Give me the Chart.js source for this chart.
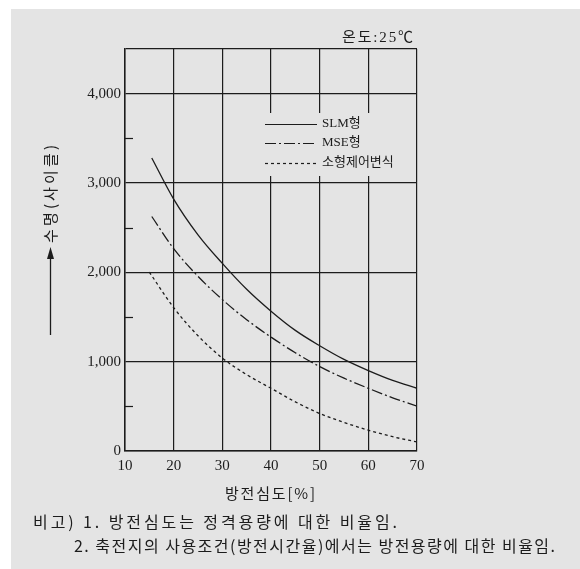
<!DOCTYPE html>
<html>
<head>
<meta charset="utf-8">
<script src="https://cdn.jsdelivr.net/npm/chart.js@4/dist/chart.umd.min.js"></script>
<style>
  html, body { margin: 0; padding: 0; background: #ffffff; }
  #wrap { position: absolute; left: 0; top: 0; width: 580px; height: 569px; }
  canvas { display: block; }
</style>
</head>
<body>
<div id="wrap"><canvas id="c" width="580" height="569"></canvas></div>
<script>
// Depth of discharge [%] sample points for each curve
const depthSLM   = [15.5, 20, 25, 30, 35, 40, 45, 50, 55, 60, 65, 70];
const depthMSE   = [15.5, 20, 25, 30, 35, 40, 45, 50, 55, 60, 65, 70];
const depthSmall = [15, 20, 25, 30, 35, 40, 45, 50, 55, 60, 65, 70];

// Cycle life values
const lifeSLM   = [3280, 2820, 2420, 2100, 1810, 1565, 1350, 1178, 1025, 900, 790, 702];
const lifeMSE   = [2625, 2265, 1955, 1695, 1470, 1275, 1100, 945, 815, 702, 595, 503];
const lifeSmall = [2003, 1605, 1290, 1040, 855, 702, 550, 420, 320, 233, 160, 101];

const seriesNames = ['SLM형', 'MSE형', '소형제어변식'];
const xTicks = [10, 20, 30, 40, 50, 60, 70];
const yLabelTicks = [0, 1000, 2000, 3000, 4000];

const titleX = '방전심도[%]';
const titleY = '수명(사이클)';
const tempNote = '온도:25℃';
const note1 = '비고) 1. 방전심도는 정격용량에 대한 비율임.';
const note2 = '2. 축전지의 사용조건(방전시간율)에서는 방전용량에 대한 비율임.';

const INK = '#1c1c1c';
const BG = '#e4e4e4';
const SERIF = "'Liberation Serif', 'Noto Sans CJK KR', serif";
const KR = "'Noto Sans CJK KR', 'Liberation Serif', sans-serif";

const toPoints = (xs, ys) => xs.map((x, i) => ({ x: x, y: ys[i] }));

const dashes = [[], [11, 3, 2, 3], [3, 3]];

// Draw text spread evenly across a given width, starting at x (left edge)
function spacedText(ctx, text, x, y, width) {
  const chars = Array.from(text);
  const widths = chars.map(ch => ctx.measureText(ch).width);
  const total = widths.reduce((a, b) => a + b, 0);
  const gap = chars.length > 1 ? (width - total) / (chars.length - 1) : 0;
  const prevAlign = ctx.textAlign;
  ctx.textAlign = 'left';
  let cx = x;
  chars.forEach((ch, i) => {
    ctx.fillText(ch, cx, y);
    cx += widths[i] + gap;
  });
  ctx.textAlign = prevAlign;
}

// Page background: white strip on top/left, grey sheet elsewhere
const backgroundPlugin = {
  id: 'sheet',
  beforeDraw(chart) {
    const ctx = chart.ctx;
    ctx.save();
    ctx.fillStyle = '#ffffff';
    ctx.fillRect(0, 0, chart.width, chart.height);
    ctx.fillStyle = BG;
    ctx.fillRect(11, 9, chart.width - 11, chart.height - 9);
    ctx.restore();
  }
};

// Short inner tick marks at the half-thousand steps
const minorTickPlugin = {
  id: 'minorTicks',
  afterDatasetsDraw(chart) {
    const ctx = chart.ctx;
    const y = chart.scales.y;
    const left = chart.chartArea.left;
    ctx.save();
    ctx.strokeStyle = INK;
    ctx.lineWidth = 1.2;
    [500, 1500, 2500, 3500].forEach(v => {
      const py = Math.round(y.getPixelForValue(v)) + 0.5;
      ctx.beginPath();
      ctx.moveTo(left, py);
      ctx.lineTo(left + 8, py);
      ctx.stroke();
    });
    ctx.restore();
  }
};

// Legend box drawn inside the plot, plus the free text around the chart
const annotatePlugin = {
  id: 'annotate',
  afterDraw(chart) {
    const ctx = chart.ctx;
    const ds = chart.data.datasets;
    ctx.save();

    // legend panel
    ctx.fillStyle = BG;
    ctx.fillRect(262, 113, 150, 63);
    const rows = [124, 143, 163];
    ds.forEach((d, i) => {
      ctx.strokeStyle = INK;
      ctx.lineWidth = 1.2;
      ctx.setLineDash(d.borderDash || []);
      ctx.beginPath();
      ctx.moveTo(265, rows[i] + 0.5);
      ctx.lineTo(317, rows[i] + 0.5);
      ctx.stroke();
      ctx.setLineDash([]);
      ctx.fillStyle = INK;
      ctx.font = '13px ' + SERIF;
      ctx.textBaseline = 'middle';
      ctx.textAlign = 'left';
      ctx.fillText(d.label, 322, rows[i]);
    });

    // temperature note
    ctx.fillStyle = INK;
    ctx.textBaseline = 'middle';
    ctx.font = '15px ' + SERIF;
    spacedText(ctx, tempNote, 342, 38, 71);

    // axis titles
    ctx.font = '15px ' + KR;
    spacedText(ctx, titleX, 225, 493, 90);

    ctx.save();
    ctx.translate(50, 194);
    ctx.rotate(-Math.PI / 2);
    spacedText(ctx, titleY, -49, 0, 98);
    ctx.restore();

    // arrow pointing up beside the y title
    ctx.strokeStyle = INK;
    ctx.lineWidth = 1.3;
    ctx.beginPath();
    ctx.moveTo(50.5, 335);
    ctx.lineTo(50.5, 256);
    ctx.stroke();
    ctx.beginPath();
    ctx.moveTo(50.5, 247);
    ctx.lineTo(47, 259);
    ctx.lineTo(54, 259);
    ctx.closePath();
    ctx.fill();

    // remarks under the chart
    ctx.font = '16px ' + KR;
    spacedText(ctx, note1, 33, 522, 364);
    spacedText(ctx, note2, 74, 546, 481);

    ctx.restore();
  }
};

const chart = new Chart(document.getElementById('c'), {
  type: 'line',
  data: {
    datasets: [
      { label: seriesNames[0], data: toPoints(depthSLM, lifeSLM), borderDash: dashes[0] },
      { label: seriesNames[1], data: toPoints(depthMSE, lifeMSE), borderDash: dashes[1] },
      { label: seriesNames[2], data: toPoints(depthSmall, lifeSmall), borderDash: dashes[2] }
    ].map(d => Object.assign(d, {
      borderColor: INK,
      borderWidth: 1.3,
      pointRadius: 0,
      fill: false,
      tension: 0.4,
      cubicInterpolationMode: 'monotone'
    }))
  },
  options: {
    responsive: false,
    animation: false,
    devicePixelRatio: 1,
    layout: { padding: { left: 0, top: 49, right: 163, bottom: 0 } },
    plugins: {
      legend: { display: false },
      tooltip: { enabled: false }
    },
    scales: {
      x: {
        type: 'linear',
        min: 10,
        max: 70,
        afterBuildTicks(scale) { scale.ticks = xTicks.map(v => ({ value: v })); },
        afterFit(scale) { scale.height = 118; },
        border: { display: true, color: INK, width: 1.5 },
        grid: { color: INK, lineWidth: 1.2, drawTicks: false },
        ticks: {
          color: INK,
          padding: 6,
          font: { family: SERIF, size: 15 }
        }
      },
      y: {
        min: 0,
        max: 4500,
        afterBuildTicks(scale) {
          scale.ticks = yLabelTicks.concat([4500]).map(v => ({ value: v }));
        },
        afterFit(scale) { scale.width = 125; },
        border: { display: true, color: INK, width: 1.5 },
        grid: { color: INK, lineWidth: 1.2, drawTicks: false },
        ticks: {
          color: INK,
          padding: 4,
          font: { family: SERIF, size: 15 },
          callback(v) { return v === 4500 ? '' : v.toLocaleString('en-US'); }
        }
      }
    }
  },
  plugins: [backgroundPlugin, minorTickPlugin, annotatePlugin]
});
</script>
</body>
</html>
